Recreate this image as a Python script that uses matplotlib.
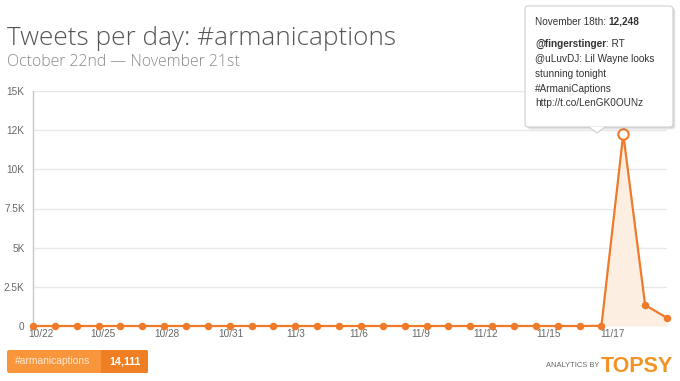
import matplotlib
matplotlib.use("Agg")
import matplotlib.pyplot as plt
from matplotlib.patches import FancyBboxPatch, Polygon, Rectangle

# ---- data ----
days = ["10/22", "10/23", "10/24", "10/25", "10/26", "10/27", "10/28", "10/29",
        "10/30", "10/31", "11/1", "11/2", "11/3", "11/4", "11/5", "11/6", "11/7",
        "11/8", "11/9", "11/10", "11/11", "11/12", "11/13", "11/14", "11/15",
        "11/16", "11/17", "11/18", "11/19", "11/20"]
counts = [0, 0, 0, 0, 0, 0, 0, 0, 0, 0, 0, 0, 0, 0, 0, 0, 0, 0, 0, 0,
          0, 0, 0, 0, 0, 0, 11, 12248, 1335, 517]
tick_labels = ["10/22", "10/25", "10/28", "10/31", "11/3", "11/6", "11/9",
               "11/12", "11/15", "11/17"]
tick_pos = [0.37, 3.2, 6.1, 9.05, 12.0, 14.9, 17.75, 20.7, 23.6, 26.5]
y_ticks = [0, 2500, 5000, 7500, 10000, 12500, 15000]
y_tick_labels = ["0", "2.5K", "5K", "7.5K", "10K", "12K", "15K"]
series_name = "#armanicaptions"
total_label = "14,111"
peak_title = "November 18th: "
peak_value = "12,248"

ORANGE = "#ee7a2a"
W, H = 680, 381
fig = plt.figure(figsize=(W / 100, H / 100), dpi=100)

# main axes: left spine at x=33, right at 667; y 0 at 326, 15K at 91
ax = fig.add_axes([33 / W, (H - 326) / H, 634 / W, 235 / H])
x = list(range(len(counts)))
ax.fill_between(x, counts, 0, color="#fdeee2", lw=0, zorder=1)
ax.plot(x, counts, color=ORANGE, lw=1.6, marker="o", ms=5.4, mew=0,
        clip_on=False, zorder=3)
peak_i = counts.index(max(counts))
ax.plot([x[peak_i]], [counts[peak_i]], marker="o", ms=7.5, mfc="white",
        mec=ORANGE, mew=1.5, clip_on=False, zorder=4)
ax.set_xlim(0, len(counts) - 1)
ax.set_ylim(0, 15000)
ax.set_yticks(y_ticks)
ax.set_yticklabels(y_tick_labels)
ax.set_xticks(tick_pos)
ax.set_xticklabels(tick_labels)
for s in ["top", "right", "bottom"]:
    ax.spines[s].set_visible(False)
ax.spines["left"].set_color("#c8c8c8")
ax.spines["left"].set_linewidth(1)
ax.grid(axis="y", color="#e8e8e8", lw=1)
ax.set_axisbelow(True)
ax.tick_params(axis="both", length=0, labelsize=7.2, labelcolor="#666666",
               labelfontfamily="Liberation Sans")
ax.tick_params(axis="y", pad=6)
ax.tick_params(axis="x", pad=2)

# overlay for annotations in pixel coordinates
ov = fig.add_axes([0, 0, 1, 1])
ov.set_xlim(0, W)
ov.set_ylim(H, 0)
ov.axis("off")
ov.patch.set_alpha(0)

fig.text(7 / W, 1 - 45 / H, "Tweets per day: #armanicaptions", fontsize=18.8,
         family="Open Sans", fontweight="light", color="#555555",
         ha="left", va="baseline")
fig.text(7 / W, 1 - 66 / H, "October 22nd \u2014 November 21st", fontsize=11.4,
         family="Open Sans", fontweight="light", color="#8a8a8a",
         ha="left", va="baseline")

# tooltip
for off, col in [(2.5, "#00000012"), (1.5, "#00000018")]:
    ov.add_patch(FancyBboxPatch((525 + off, 6 + off), 148, 121,
                                boxstyle="round,pad=0,rounding_size=3",
                                fc=col, ec="none", zorder=5))
ov.add_patch(FancyBboxPatch((525, 6), 148, 121,
                            boxstyle="round,pad=0,rounding_size=3",
                            fc="white", ec="#d0d0d0", lw=0.8, zorder=6))
ov.add_patch(Polygon([[589, 126.6], [605, 126.6], [597, 133]], closed=True,
                     fc="white", ec="none", zorder=7))
ov.plot([589, 597, 605], [127, 133, 127], color="#d0d0d0", lw=0.8, zorder=7)
tfont = dict(family="Liberation Sans", fontsize=7.2, color="#333333",
             va="center", zorder=8)
t1 = ov.text(535, 22, peak_title, **tfont)
fig.canvas.draw()
bb = t1.get_window_extent()
ov.text(535 + bb.width, 22, peak_value, fontweight="bold", **tfont)
t2 = ov.text(535, 44, "@fingerstinger", fontweight="bold", **tfont)
fig.canvas.draw()
bb2 = t2.get_window_extent()
ov.text(535 + bb2.width, 44, ": RT", **tfont)
for i, line in enumerate(["@uLuvDJ: Lil Wayne looks", "stunning tonight",
                          "#ArmaniCaptions", "http://t.co/LenGK0OUNz"]):
    ov.text(535, 59 + 14.8 * i, line, **tfont)

# legend badge
ov.add_patch(FancyBboxPatch((7, 350), 141, 23,
                            boxstyle="round,pad=0,rounding_size=2",
                            fc="#f9963b", ec="none", zorder=5))
ov.add_patch(FancyBboxPatch((101, 350), 47, 23,
                            boxstyle="round,pad=0,rounding_size=2",
                            fc="#f07f24", ec="none", zorder=6))
ov.add_patch(Rectangle((101, 350), 5, 23, fc="#f07f24", ec="none", zorder=6))
ov.text(15, 361.5, series_name, family="Liberation Sans", fontsize=7.4,
        color="#fde9d6", va="center", ha="left", zorder=7)
ov.text(125, 361.5, total_label, family="Liberation Sans", fontsize=7.8,
        fontweight="bold", color="white", va="center", ha="center", zorder=7)

# branding
ov.text(599, 367, "ANALYTICS BY", family="Liberation Sans", fontsize=5.4,
        color="#666666", ha="right", va="baseline")
ov.text(673, 372.5, "TOPSY", family="Liberation Sans", fontsize=15.5,
        fontweight="bold", color="#f39325", ha="right", va="baseline")

fig.savefig("out.png", dpi=100, facecolor="white")
